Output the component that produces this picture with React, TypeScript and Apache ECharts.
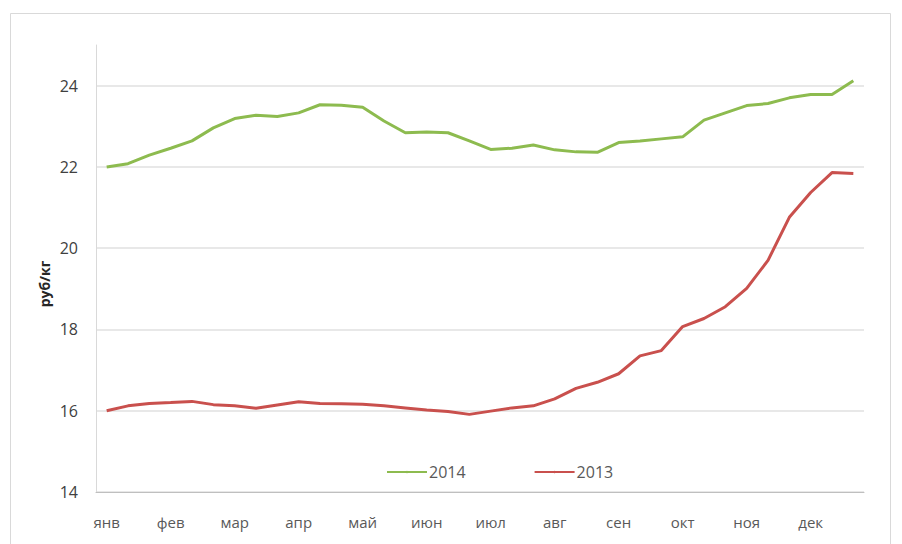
import React, { useEffect, useRef } from "react";
import * as echarts from "echarts";

const months = ["янв", "фев", "мар", "апр", "май", "июн", "июл", "авг", "сен", "окт", "ноя", "дек"];
const decadesPerMonth = 3;
const categories: string[] = months.flatMap((m) => [m, m + " II", m + " III"]);

const series2014Name = "2014";
const values2014 = [
  22.0, 22.08, 22.29, 22.46, 22.64, 22.96, 23.19, 23.27, 23.24, 23.33, 23.53, 23.52,
  23.47, 23.13, 22.84, 22.86, 22.84, 22.64, 22.43, 22.46, 22.54, 22.42, 22.37, 22.36,
  22.6, 22.64, 22.69, 22.74, 23.15, 23.33, 23.51, 23.56, 23.7, 23.78, 23.78, 24.12,
];

const series2013Name = "2013";
const values2013 = [
  16.0, 16.12, 16.18, 16.2, 16.23, 16.15, 16.12, 16.06, 16.14, 16.22, 16.18, 16.17,
  16.16, 16.12, 16.07, 16.02, 15.98, 15.91, 15.99, 16.07, 16.12, 16.29, 16.55, 16.7,
  16.91, 17.35, 17.48, 18.07, 18.27, 18.56, 19.01, 19.7, 20.76, 21.37, 21.86, 21.84,
];

const yMin = 14;
const yMax = 25;
const yInterval = 2;
const yAxisTitle = "руб/кг";

const FONT = "'Open Sans', 'Noto Sans', sans-serif";

export default function App() {
  const ref = useRef<HTMLDivElement>(null);

  useEffect(() => {
    if (!ref.current) return;
    const chart = echarts.init(ref.current, undefined, { renderer: "svg" });
    chart.setOption({
      animation: false,
      backgroundColor: "#ffffff",
      grid: { left: 96, right: 38, top: 45, bottom: 52, containLabel: false },
      graphic: [
        {
          type: "rect",
          shape: { x: 10.5, y: 13.5, width: 880, height: 600 },
          style: { fill: "none", stroke: "#d9d9d9", lineWidth: 1 },
          silent: true,
        },
        {
          type: "text",
          x: 44,
          y: 284,
          rotation: Math.PI / 2,
          style: {
            text: yAxisTitle,
            font: `bold 14px ${FONT}`,
            fill: "#262626",
            align: "center",
            verticalAlign: "middle",
          },
        },
      ],
      legend: {
        left: 381,
        top: 459,
        itemWidth: 40,
        itemHeight: 3,
        itemGap: 68,
        textStyle: { fontFamily: FONT, fontSize: 16, color: "#595959", padding: [0, 0, 0, -3] },
        data: [series2014Name, series2013Name],
      },
      xAxis: {
        type: "category",
        data: categories,
        boundaryGap: true,
        axisLine: { show: true, lineStyle: { color: "#bfbfbf", width: 1 } },
        axisTick: { show: false },
        axisLabel: {
          interval: (idx: number) => idx % decadesPerMonth === 0,
          formatter: (v: string) => v.split(" ")[0],
          fontFamily: FONT,
          fontSize: 15,
          color: "#595959",
          margin: 22,
        },
        splitLine: { show: false },
      },
      yAxis: {
        type: "value",
        min: yMin,
        max: yMax,
        interval: yInterval,
        axisLine: { show: true, lineStyle: { color: "#d9d9d9", width: 1 } },
        axisTick: { show: false },
        axisLabel: {
          showMaxLabel: false,
          fontFamily: FONT,
          fontSize: 16,
          color: "#404040",
          margin: 18,
        },
        splitLine: { show: true, showMaxLine: false, lineStyle: { color: "#e0e0e0", width: 1.5 } },
      },
      series: [
        {
          name: series2014Name,
          type: "line",
          data: values2014,
          symbol: "none",
          lineStyle: { color: "#8dbb4f", width: 3 },
          itemStyle: { color: "#8dbb4f" },
        },
        {
          name: series2013Name,
          type: "line",
          data: values2013,
          symbol: "none",
          lineStyle: { color: "#c9504d", width: 3 },
          itemStyle: { color: "#c9504d" },
        },
      ],
    });
    return () => chart.dispose();
  }, []);

  return (
    <div
      ref={ref}
      style={{ position: "fixed", left: 0, top: 0, width: 902, height: 544 }}
    />
  );
}
